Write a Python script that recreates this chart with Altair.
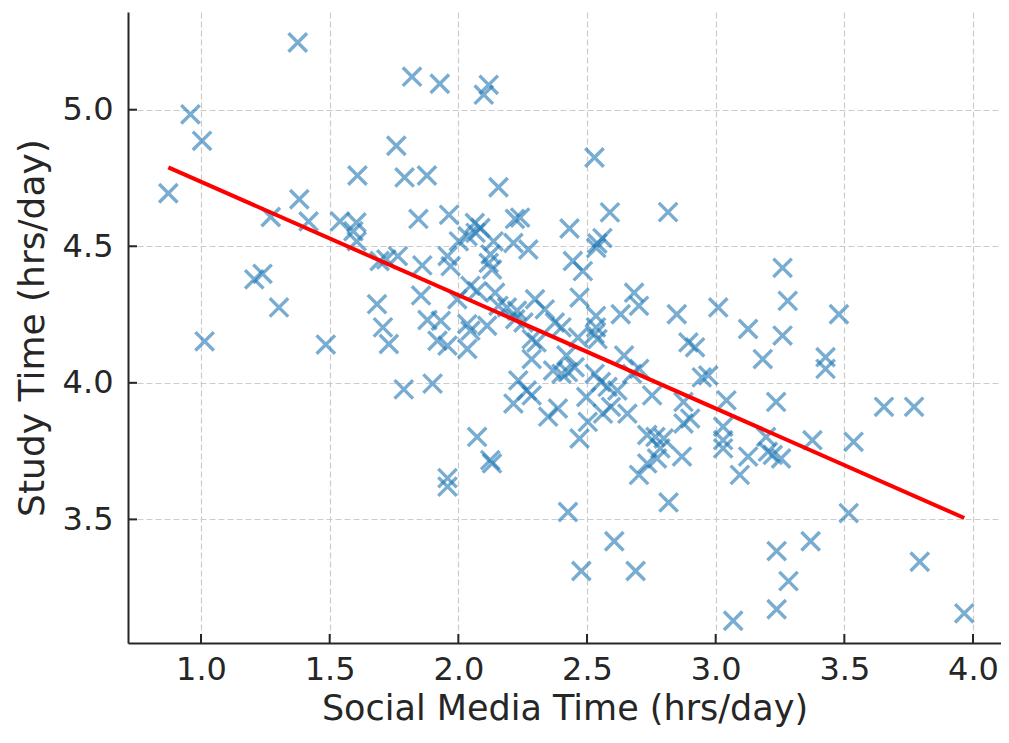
import altair as alt
import pandas as pd

# Values
social_media = [
    1.376, 1.820, 0.959, 1.004, 0.873, 1.608, 1.759, 1.791, 1.382, 1.271,
    1.418, 1.540, 1.604, 1.845, 1.928, 2.118, 2.099, 2.529, 1.878, 2.156,
    2.589, 2.815, 1.964, 2.064, 2.086, 2.220, 2.240, 2.432, 2.540, 2.560,
    1.207, 1.239, 1.303, 1.014, 1.485, 1.684, 1.707, 1.730, 1.788, 1.694,
    1.720, 1.765, 1.605, 1.592, 1.860, 1.855, 1.880, 2.002, 2.067, 2.137,
    2.214, 2.272, 1.958, 1.970, 2.118, 2.131, 2.445, 2.484, 1.996, 2.047,
    2.073, 2.143, 2.156, 2.189, 2.298, 2.336, 2.471, 2.631, 2.683, 2.702,
    2.849, 1.932, 1.919, 1.958, 2.035, 2.047, 2.112, 2.035, 2.221, 2.253,
    2.285, 2.304, 2.375, 2.401, 2.465, 2.535, 2.541, 2.535, 2.285, 2.368,
    2.401, 2.426, 2.452, 2.420, 2.644, 2.894, 2.920, 2.946, 1.900, 2.233,
    2.266, 2.285, 2.214, 2.349, 2.387, 2.497, 2.554, 2.580, 2.618, 2.675,
    2.593, 2.657, 2.503, 2.753, 2.875, 2.901, 2.734, 2.766, 2.798, 2.875,
    2.073, 2.471, 3.260, 3.280, 3.260, 3.010, 3.126, 3.183, 3.479, 3.427,
    3.427, 2.971, 3.042, 3.235, 3.654, 3.771, 3.029, 3.196, 3.376, 3.536,
    3.029, 1.958, 1.958, 2.124, 2.131, 2.426, 2.606, 2.478, 2.689, 2.817,
    2.702, 2.734, 2.772, 2.785, 2.869, 3.029, 3.126, 3.094, 3.203, 3.222,
    3.254, 3.517, 3.237, 3.369, 3.283, 3.237, 3.068, 3.793, 3.966, 2.036,
    2.125, 2.228, 2.530, 2.530, 2.703, 2.562, 2.536,
]
study_time = [
    5.246, 5.121, 4.983, 4.886, 4.694, 4.759, 4.868, 4.752, 4.672, 4.607,
    4.591, 4.591, 4.587, 4.600, 5.095, 5.091, 5.055, 4.825, 4.759, 4.716,
    4.624, 4.625, 4.615, 4.585, 4.567, 4.600, 4.605, 4.565, 4.510, 4.530,
    4.379, 4.399, 4.276, 4.152, 4.140, 4.288, 4.203, 4.142, 3.976, 4.446,
    4.452, 4.464, 4.518, 4.555, 4.430, 4.320, 4.230, 4.518, 4.549, 4.518,
    4.512, 4.488, 4.464, 4.427, 4.439, 4.415, 4.446, 4.409, 4.306, 4.355,
    4.336, 4.330, 4.282, 4.276, 4.306, 4.269, 4.312, 4.251, 4.330, 4.282,
    4.251, 4.227, 4.154, 4.136, 4.215, 4.191, 4.209, 4.124, 4.233, 4.221,
    4.160, 4.148, 4.221, 4.203, 4.166, 4.203, 4.160, 4.245, 4.087, 4.045,
    4.033, 4.039, 4.057, 4.100, 4.100, 4.148, 4.130, 4.020, 3.997, 4.009,
    3.972, 3.954, 3.924, 3.876, 3.906, 3.948, 4.003, 3.985, 3.972, 4.033,
    3.912, 3.887, 3.857, 3.954, 3.930, 3.869, 3.809, 3.802, 3.796, 3.851,
    3.802, 3.796, 4.421, 4.300, 4.173, 4.276, 4.197, 4.087, 4.251, 4.094,
    4.051, 4.027, 3.936, 3.930, 3.912, 3.912, 3.839, 3.802, 3.790, 3.784,
    3.790, 3.651, 3.620, 3.717, 3.705, 3.527, 3.420, 3.311, 3.311, 3.562,
    3.663, 3.705, 3.723, 3.760, 3.730, 3.760, 3.730, 3.663, 3.748, 3.736,
    3.723, 3.523, 3.384, 3.420, 3.274, 3.171, 3.129, 3.345, 3.156, 4.537,
    4.470, 4.264, 4.179, 4.033, 4.051, 3.887, 4.494,
]
fit_x = [0.873, 3.966]
fit_y = [4.789, 3.505]
x_ticks = [1.0, 1.5, 2.0, 2.5, 3.0, 3.5, 4.0]
y_ticks = [3.5, 4.0, 4.5, 5.0]

pts = pd.DataFrame({"sm": social_media, "st": study_time})
fit = pd.DataFrame({"sm": fit_x, "st": fit_y})
xt = pd.DataFrame({"v": x_ticks})
yt = pd.DataFrame({"v": y_ticks})

W, H = 873, 631
FONT = "DejaVu Sans"
DARK = "#262626"

xscale = alt.Scale(domain=[0.7163, 4.1088], nice=False, zero=False)
yscale = alt.Scale(domain=[3.0474, 5.3577], nice=False, zero=False)

x_axis = alt.Axis(values=x_ticks, format=".1f", title="Social Media Time (hrs/day)",
                  labelPadding=11, titlePadding=6, titleFontSize=35)
y_axis = alt.Axis(values=y_ticks, format=".1f", title="Study Time (hrs/day)",
                  labelPadding=15, titlePadding=11, titleFontSize=36)

points = alt.Chart(pts).mark_point(
    shape="M-1,-1L1,1M-1,1L1,-1", size=340, strokeWidth=3.4,
    color="#1f77b4", opacity=0.6, filled=False,
).encode(
    x=alt.X("sm:Q", scale=xscale, axis=x_axis),
    y=alt.Y("st:Q", scale=yscale, axis=y_axis),
)

line = alt.Chart(fit).mark_line(color="#ff0000", strokeWidth=4).encode(
    x=alt.X("sm:Q", scale=xscale),
    y=alt.Y("st:Q", scale=yscale),
)

xticks = alt.Chart(xt).mark_rule(color=DARK, strokeWidth=2).encode(
    x=alt.X("v:Q", scale=xscale),
    y=alt.value(H), y2=alt.value(H - 9),
)
yticks = alt.Chart(yt).mark_rule(color=DARK, strokeWidth=2).encode(
    y=alt.Y("v:Q", scale=yscale),
    x=alt.value(0), x2=alt.value(9),
)

chart = alt.layer(points, line, xticks, yticks).properties(
    width=W, height=H,
    autosize=alt.AutoSizeParams(type="none"),
    padding={"left": 120, "top": 4, "right": 0, "bottom": 85},
).configure_view(stroke=None).configure_axis(
    labelFont=FONT, titleFont=FONT, labelFontSize=32,
    labelColor=DARK, titleColor=DARK, titleFontWeight="normal",
    domainColor=DARK, domainWidth=2, tickSize=0,
    gridColor="#cccccc", gridDash=[6, 3], gridWidth=1.2,
)

chart.save("out.html", embed_options={"renderer": "svg", "actions": False})
